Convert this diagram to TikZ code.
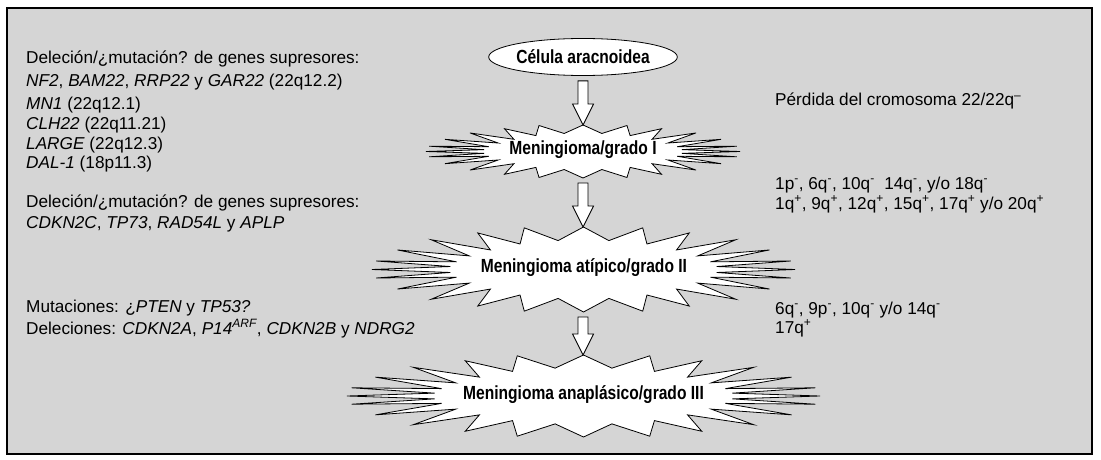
\documentclass[tikz,border=0pt]{standalone}
\usepackage{fontspec}
\setmainfont{Liberation Sans}
\newfontfamily\labelfont[FakeStretch=0.82]{Liberation Sans}
\usetikzlibrary{calc,shapes.geometric}
\definecolor{bggray}{RGB}{213,213,213}
\newcommand\supm{\textsuperscript{-}}
\newcommand\supp{\textsuperscript{+}}
\newcommand\burstshape[4]{%
\begin{scope}[shift={(#1,#2)}, x=#3pt, y=#4pt]
\draw[burst] (0,1) -- (0.12,0.68) -- (0.28,0.98) -- (0.30,0.60) -- (0.50,0.86) -- (0.44,0.46) -- (0.72,0.70) -- (0.54,0.32) -- (0.88,0.46) -- (0.60,0.18) -- (0.98,0.20) -- (0.63,0.07) -- (1,0)
 -- (0.63,-0.07) -- (0.98,-0.20) -- (0.60,-0.18) -- (0.88,-0.46) -- (0.54,-0.32) -- (0.72,-0.70) -- (0.44,-0.46) -- (0.50,-0.86) -- (0.30,-0.60) -- (0.28,-0.98) -- (0.12,-0.68) -- (0,-1)
 -- (-0.12,-0.68) -- (-0.28,-0.98) -- (-0.30,-0.60) -- (-0.50,-0.86) -- (-0.44,-0.46) -- (-0.72,-0.70) -- (-0.54,-0.32) -- (-0.88,-0.46) -- (-0.60,-0.18) -- (-0.98,-0.20) -- (-0.63,-0.07) -- (-1,0)
 -- (-0.63,0.07) -- (-0.98,0.20) -- (-0.60,0.18) -- (-0.88,0.46) -- (-0.54,0.32) -- (-0.72,0.70) -- (-0.44,0.46) -- (-0.50,0.86) -- (-0.30,0.60) -- (-0.28,0.98) -- (-0.12,0.68) -- cycle;
\end{scope}}
\newcommand\blockarr[2]{%
\draw[barrow] let \p1=($(#1)+(0,5)$), \p2=(#2) in
 (\x1-5pt,\y1) -- (\x1+5pt,\y1) -- (\x1+5pt,\y2+21pt) -- (\x1+10.5pt,\y2+21pt) -- (\x1,\y2) -- (\x1-10.5pt,\y2+21pt) -- (\x1-5pt,\y2+21pt) -- cycle;}
\begin{document}
\begin{tikzpicture}[x=1pt,y=-1pt,
  txt/.style={anchor=base west, inner sep=0pt, font=\fontsize{17.2}{20}\selectfont},
  lbl/.style={inner sep=0pt, font=\labelfont\bfseries\fontsize{19}{22}\selectfont},
  burst/.style={draw=black, fill=white, line width=0.8pt, line join=miter},
  barrow/.style={draw=black, fill=white, line width=0.9pt},
]
\useasboundingbox (0,0) rectangle (1101,460);
\draw[fill=bggray, line width=1.2pt] (7,8) rectangle (1092,454);

% bursts
\burstshape{583}{151.5}{157}{26.5}
\burstshape{583.5}{269.5}{211.5}{42.5}
\burstshape{583.5}{396}{236.5}{41}

\node[ellipse, draw, fill=white, line width=0.8pt, minimum width=187pt, minimum height=37pt, lbl] (cell) at (583,57) {Célula aracnoidea};
\node[lbl] (g1) at (583,150) {Meningioma/grado I};
\node[lbl] (g2) at (584,268) {Meningioma atípico/grado II};
\node[lbl] (g3) at (583.5,395) {Meningioma anaplásico/grado III};

\coordinate (g1top) at (583,125);
\coordinate (g1bot) at (583,178);
\coordinate (g2top) at (583,227);
\coordinate (g2bot) at (583,312);
\coordinate (g3top) at (583,355);

\blockarr{cell.south}{g1top}
\blockarr{g1bot}{g2top}
\blockarr{g2bot}{g3top}

% left texts
\node[txt] (l1) at (26,64) {Deleción/¿mutación? de genes supresores:};
\node[txt] (l2) at (26,86) {\textit{NF2}, \textit{BAM22}, \textit{RRP22} y \textit{GAR22} (22q12.2)};
\node[txt] (l3) at (26,110) {\textit{MN1} (22q12.1)};
\node[txt] (l4) at (26,129.5) {\textit{CLH22} (22q11.21)};
\node[txt] (l5) at (26,149) {\textit{LARGE} (22q12.3)};
\node[txt] (l6) at (26,168.5) {\textit{DAL-1} (18p11.3)};
\node[txt] (l7) at (26,207) {Deleción/¿mutación? de genes supresores:};
\node[txt] (l8) at (26,228) {\textit{CDKN2C}, \textit{TP73}, \textit{RAD54L} y \textit{APLP}};
\node[txt] (l9) at (26,312) {Mutaciones: ¿\textit{PTEN} y \textit{TP53?}};
\node[txt] (l10) at (26,334) {Deleciones: \textit{CDKN2A}, \textit{P14\textsuperscript{ARF}}, \textit{CDKN2B} y \textit{NDRG2}};

% right texts
\node[txt] (r1) at (775,106) {Pérdida del cromosoma 22/22q\textsuperscript{--}};
\node[txt] (r2) at (775,189) {1p\supm, 6q\supm, 10q\supm\ \ 14q\supm, y/o 18q\supm};
\node[txt] (r3) at (775,209) {1q\supp, 9q\supp, 12q\supp, 15q\supp, 17q\supp{} y/o 20q\supp};
\node[txt] (r4) at (775,314) {6q\supm, 9p\supm, 10q\supm{} y/o 14q\supm};
\node[txt] (r5) at (775,333) {17q\supp};
\end{tikzpicture}
\end{document}
